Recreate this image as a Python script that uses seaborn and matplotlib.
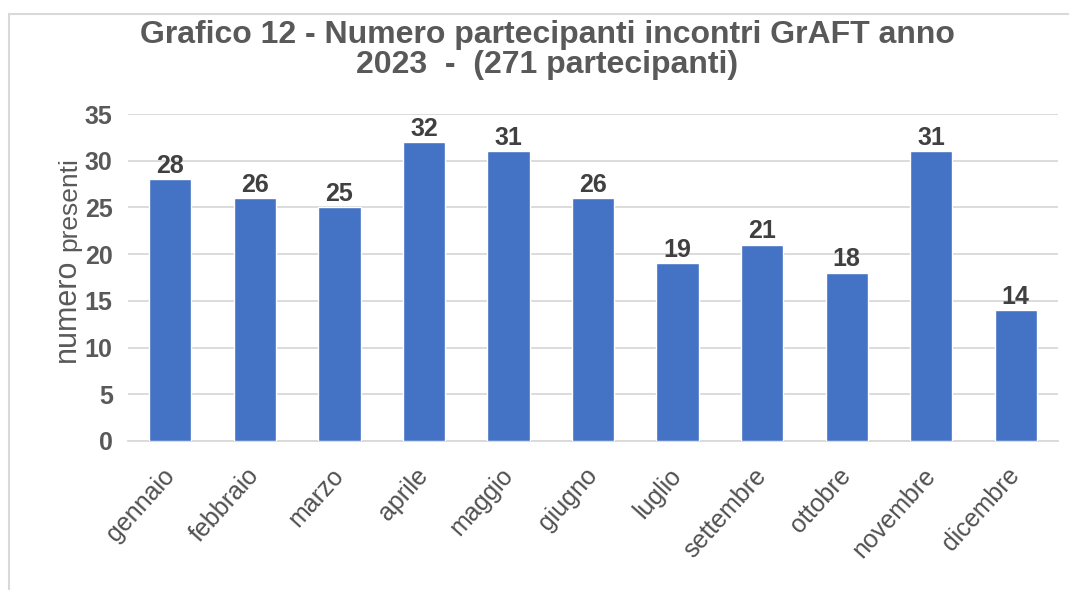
import matplotlib
matplotlib.use("Agg")
import matplotlib.pyplot as plt
import seaborn as sns
import pandas as pd
from matplotlib.patches import Rectangle

mesi = ["gennaio", "febbraio", "marzo", "aprile", "maggio", "giugno",
        "luglio", "settembre", "ottobre", "novembre", "dicembre"]
partecipanti = [28, 26, 25, 32, 31, 26, 19, 21, 18, 31, 14]
yticks = [0, 5, 10, 15, 20, 25, 30, 35]

df = pd.DataFrame({"mese": mesi, "presenti": partecipanti})

sns.set_theme(style="white")
plt.rcParams["font.family"] = ["Liberation Sans", "DejaVu Sans"]

grigio = "#595959"
fig = plt.figure(figsize=(10.69, 5.90), dpi=100)
ax = fig.add_axes([128 / 1069, 1 - 441 / 590, 930 / 1069, 327 / 590])

sns.barplot(data=df, x="mese", y="presenti", color="#4472c4", width=0.5,
            saturation=1, ax=ax, zorder=3)

# etichette sopra le barre
for i, v in enumerate(partecipanti):
    ax.text(i, v + 0.15, str(v), ha="center", va="bottom", fontsize=18,
            fontweight="bold", color="#404040")

ax.set_ylim(0, 35)
ax.set_yticks(yticks)
ax.set_yticklabels([str(t) for t in yticks], fontsize=18, fontweight="bold", color=grigio)
ax.set_xticks(range(len(mesi)))
ax.set_xticklabels(mesi, rotation=48, ha="right", va="center", rotation_mode="anchor",
                   fontsize=18, color="#505050")
ax.tick_params(axis="x", pad=22, length=0)
ax.tick_params(axis="y", pad=11, length=0)
ax.set_xlim(-0.5, len(mesi) - 0.5)
ax.grid(axis="y", color="#d9d9d9", linewidth=1.3, zorder=0)
for s in ["top", "right", "left"]:
    ax.spines[s].set_visible(False)
ax.spines["bottom"].set_color("#d9d9d9")
ax.spines["bottom"].set_linewidth(1.3)
ax.set_xlabel("")
ax.set_ylabel("")

# etichetta asse y con due dimensioni diverse
fig.text(67 / 1069, 1 - 310 / 590, "numero", rotation=90, ha="center", va="center",
         fontsize=22, color=grigio)
fig.text(69 / 1069, 1 - 204 / 590, "presenti", rotation=90, ha="center", va="center",
         fontsize=19, color=grigio)

fig.text(547 / 1069, 1 - 50 / 590,
         "Grafico 12 - Numero partecipanti incontri GrAFT anno\n2023  -  (271 partecipanti)",
         ha="center", va="center", fontsize=23, fontweight="bold", color=grigio,
         linespacing=1.0)

# cornice del grafico
fig.patches.append(Rectangle((9 / 1069, -0.05), 1.2, 1.05 - 13.5 / 590,
                             transform=fig.transFigure, fill=False,
                             edgecolor="#d9d9d9", linewidth=1.5))

fig.savefig("out.png", dpi=100)
